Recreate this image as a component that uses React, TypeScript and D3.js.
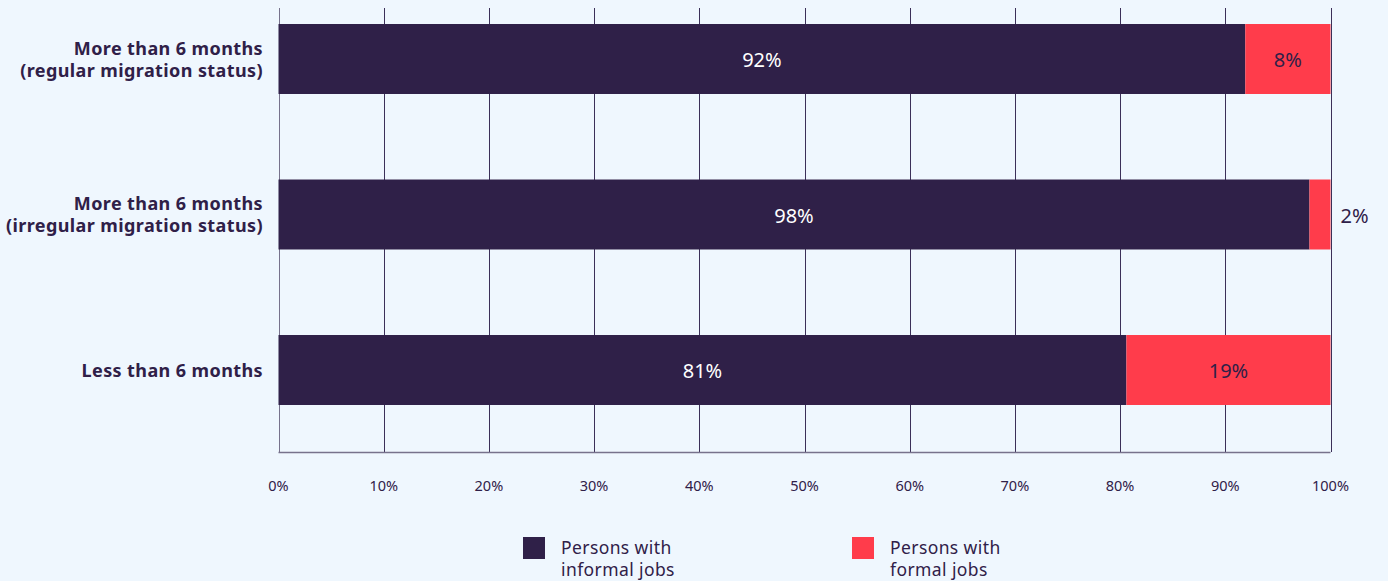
import React from "react";
import * as d3 from "d3";

const categories: string[][] = [
  ["More than 6 months", "(regular migration status)"],
  ["More than 6 months", "(irregular migration status)"],
  ["Less than 6 months"],
];
const informal: number[] = [91.9, 98.0, 80.6];
const formal: number[] = [8.1, 2.0, 19.4];
const ticks: number[] = [0, 10, 20, 30, 40, 50, 60, 70, 80, 90, 100];
const seriesNames: string[][] = [
  ["Persons with", "informal jobs"],
  ["Persons with", "formal jobs"],
];

const W = 1388;
const H = 581;
const DARK = "#2f2048";
const RED = "#ff3c4b";
const BG = "#eff7fe";
const FONT = "'Noto Sans', 'Open Sans', sans-serif";

export default function App() {
  const x = d3.scaleLinear().domain([0, 100]).range([278.5, 1330.5]);
  const y = d3
    .scaleBand<number>()
    .domain(categories.map((_, i) => i))
    .range([-18.75, 447.75])
    .paddingInner(0.55)
    .paddingOuter(0.275);
  const gridTop = 8;
  const gridBottom = 452;

  return (
    <div style={{ position: "absolute", left: 0, top: 0 }}>
      <svg width={W} height={H} style={{ display: "block", background: BG, fontFamily: FONT }}>
        <rect x={0} y={0} width={W} height={H} fill={BG} />
        {ticks.map((t) => (
          <line
            key={"g" + t}
            x1={Math.round(x(t)) + 0.5}
            x2={Math.round(x(t)) + 0.5}
            y1={gridTop}
            y2={gridBottom}
            stroke={t === 0 ? "#77728c" : "#3b3058"}
            strokeWidth={1}
          />
        ))}
        <line x1={x(0)} x2={x(100)} y1={gridBottom + 0.5} y2={gridBottom + 0.5} stroke="#77728c" strokeWidth={1.5} />
        {ticks.map((t) => (
          <text key={"t" + t} x={x(t)} y={491} textAnchor="middle" fontSize={14.5} fill={DARK}>
            {t + "%"}
          </text>
        ))}
        {categories.map((lines, i) => {
          const y0 = y(i)!;
          const bw = y.bandwidth();
          const cy = y0 + bw / 2;
          const xi = x(informal[i]);
          const xf = x(informal[i] + formal[i]);
          const lh = 22;
          const startY = cy - ((lines.length - 1) * lh) / 2 + 6.5;
          const fOutside = xf - xi < 40;
          return (
            <g key={"c" + i}>
              <rect x={x(0)} y={y0} width={xi - x(0)} height={bw} fill={DARK} />
              <rect x={xi} y={y0} width={xf - xi} height={bw} fill={RED} />
              <text x={(x(0) + xi) / 2} y={cy + 8} textAnchor="middle" fontSize={20} fill="#ffffff">
                {Math.round(informal[i]) + "%"}
              </text>
              <text
                x={fOutside ? xf + 10 : (xi + xf) / 2}
                y={cy + 8}
                textAnchor={fOutside ? "start" : "middle"}
                fontSize={20}
                fill={DARK}
              >
                {Math.round(formal[i]) + "%"}
              </text>
              {lines.map((l, j) => (
                <text
                  key={j}
                  x={263}
                  y={startY + j * lh}
                  textAnchor="end"
                  fontSize={18}
                  fontWeight={700}
                  letterSpacing={0.4}
                  fill={DARK}
                >
                  {l}
                </text>
              ))}
            </g>
          );
        })}
        {seriesNames.map((lines, k) => {
          const lx = k === 0 ? 523 : 852;
          return (
            <g key={"l" + k}>
              <rect x={lx} y={537} width={22} height={22} fill={k === 0 ? DARK : RED} />
              {lines.map((l, j) => (
                <text key={j} x={lx + 38} y={554 + j * 22} fontSize={17.5} letterSpacing={0.4} fill={DARK}>
                  {l}
                </text>
              ))}
            </g>
          );
        })}
      </svg>
    </div>
  );
}
